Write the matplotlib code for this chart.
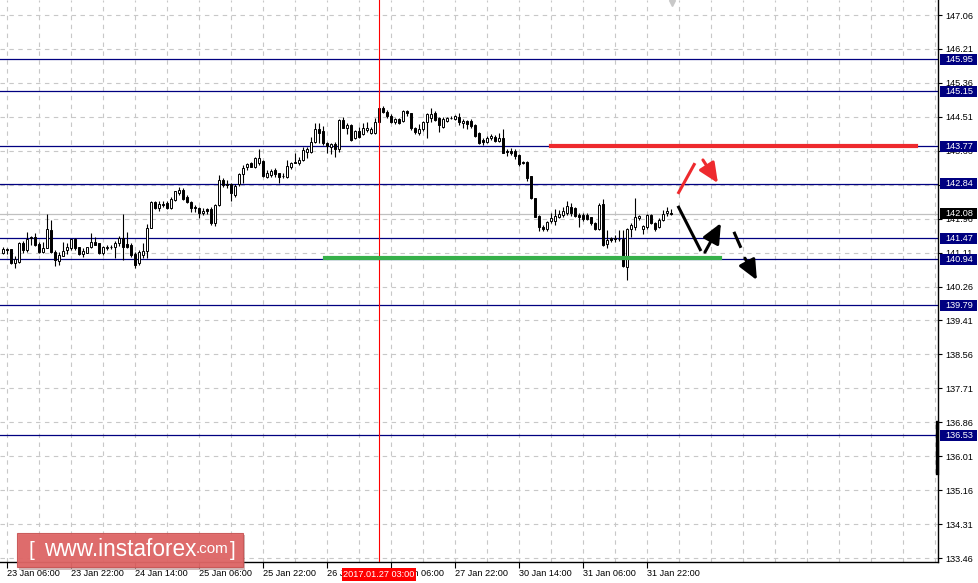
import numpy as np
import matplotlib
matplotlib.use('Agg')
import matplotlib.pyplot as plt
from matplotlib.patches import Rectangle
import matplotlib.transforms as mtransforms

# hourly candles (bar 0 = 23 Jan 05:00)
opens = [141.11, 141.19, 141.19, 140.84, 140.88, 141.36, 141.18, 141.49, 141.49, 141.32,
         141.13, 141.22, 141.68, 141.13, 140.90, 141.03, 141.18, 141.22, 141.44, 141.26,
         141.07, 141.11, 141.24, 141.38, 141.34, 141.11, 141.22, 141.26, 141.26, 141.34,
         141.48, 141.32, 141.30, 141.07, 140.84, 141.05, 141.15, 141.73, 142.37, 142.22,
         142.32, 142.34, 142.22, 142.43, 142.60, 142.68, 142.49, 142.37, 142.26, 142.23,
         142.09, 142.20, 142.20, 141.84, 142.30, 142.93, 142.82, 142.83, 142.55, 142.83,
         143.08, 143.25, 143.35, 143.26, 143.36, 143.41, 143.01, 143.05, 143.18, 143.10,
         143.03, 143.01, 143.26, 143.37, 143.35, 143.43, 143.64, 143.64, 143.89, 144.20,
         144.16, 143.86, 143.76, 143.82, 143.70, 144.43, 144.24, 144.31, 143.99, 144.16,
         144.07, 144.18, 144.10, 144.10, 144.37, 144.72, 144.64, 144.54, 144.37, 144.46,
         144.41, 144.66, 144.60, 144.24, 144.10, 144.21, 144.37, 144.49, 144.60, 144.49,
         144.26, 144.41, 144.48, 144.45, 144.51, 144.35, 144.41, 144.41, 144.31, 144.10,
         143.93, 143.89, 143.97, 144.01, 143.91, 143.97, 143.64, 143.66, 143.66, 143.55,
         143.39, 143.39, 143.03, 142.47, 142.03, 141.76, 141.69, 141.91, 141.91, 141.99,
         142.05, 142.09, 142.24, 142.22, 142.05, 142.05, 142.05, 141.99, 141.86, 141.69,
         142.33, 141.33, 141.47, 141.47, 141.44, 141.44, 140.76, 141.69, 141.76, 141.97,
         141.69, 141.76, 142.05, 141.84, 141.74, 141.93, 142.09, 142.11]
highs = [141.24, 141.23, 141.20, 141.02, 141.38, 141.41, 141.63, 141.53, 141.59, 141.38,
         141.38, 142.08, 141.93, 141.17, 141.13, 141.38, 141.34, 141.46, 141.47, 141.26,
         141.22, 141.26, 141.59, 141.51, 141.34, 141.28, 141.30, 141.30, 141.40, 141.53,
         142.07, 141.63, 141.34, 141.12, 141.17, 141.34, 141.82, 142.39, 142.40, 142.39,
         142.39, 142.39, 142.49, 142.65, 142.76, 142.72, 142.55, 142.39, 142.30, 142.26,
         142.22, 142.22, 142.24, 142.32, 143.05, 142.97, 142.93, 142.86, 142.84, 143.10,
         143.30, 143.36, 143.39, 143.51, 143.70, 143.43, 143.18, 143.20, 143.22, 143.11,
         143.10, 143.43, 143.39, 143.60, 143.51, 143.76, 143.75, 144.01, 144.35, 144.35,
         144.28, 143.89, 143.85, 143.89, 144.46, 144.51, 144.35, 144.32, 144.18, 144.26,
         144.35, 144.37, 144.26, 144.47, 144.74, 144.77, 144.68, 144.57, 144.47, 144.47,
         144.68, 144.68, 144.60, 144.26, 144.32, 144.41, 144.60, 144.72, 144.66, 144.51,
         144.51, 144.51, 144.53, 144.56, 144.60, 144.45, 144.43, 144.45, 144.33, 144.12,
         143.97, 144.03, 144.08, 144.05, 144.10, 144.20, 143.70, 143.72, 143.70, 143.57,
         143.41, 143.40, 143.03, 142.47, 142.05, 141.80, 141.91, 142.11, 142.19, 142.18,
         142.24, 142.39, 142.36, 142.24, 142.11, 142.11, 142.09, 141.99, 141.88, 142.34,
         142.44, 141.68, 141.51, 141.55, 141.68, 141.68, 141.72, 141.84, 142.47, 142.05,
         141.80, 142.08, 142.08, 141.88, 141.97, 142.18, 142.24, 142.19]
lows = [141.08, 141.07, 140.82, 140.73, 140.84, 141.09, 141.12, 141.30, 141.28, 141.09,
        141.09, 141.22, 141.09, 140.77, 140.80, 141.03, 141.07, 141.17, 141.17, 141.05,
        141.01, 141.09, 141.22, 141.30, 141.07, 141.05, 141.17, 141.20, 140.97, 141.28,
        140.92, 141.23, 141.01, 140.73, 140.80, 140.97, 140.97, 141.72, 142.20, 142.15,
        142.26, 142.20, 142.20, 142.39, 142.55, 142.43, 142.34, 142.12, 142.12, 141.98,
        142.05, 142.07, 141.80, 141.78, 142.28, 142.76, 142.72, 142.39, 142.51, 142.78,
        142.85, 143.18, 143.25, 143.22, 143.30, 143.01, 142.97, 143.01, 143.01, 142.85,
        142.97, 142.99, 143.20, 143.35, 143.30, 143.41, 143.47, 143.61, 143.86, 143.85,
        143.81, 143.61, 143.57, 143.51, 143.64, 144.22, 144.07, 143.91, 143.96, 143.99,
        144.06, 144.14, 144.07, 144.07, 144.35, 144.60, 144.47, 144.35, 144.32, 144.32,
        144.39, 144.54, 144.18, 144.07, 144.06, 144.16, 143.99, 144.39, 144.41, 144.12,
        144.22, 144.39, 144.45, 144.43, 144.31, 144.22, 144.20, 144.22, 144.01, 143.84,
        143.80, 143.86, 143.93, 143.88, 143.88, 143.60, 143.53, 143.55, 143.45, 143.28,
        143.33, 142.91, 142.45, 141.99, 141.66, 141.66, 141.66, 141.84, 141.80, 141.97,
        141.99, 142.05, 142.03, 141.99, 141.74, 141.91, 141.93, 141.80, 141.68, 141.68,
        141.28, 141.22, 141.38, 141.38, 141.41, 140.74, 140.42, 141.51, 141.68, 141.93,
        141.58, 141.69, 141.83, 141.66, 141.72, 141.91, 142.03, 142.05]
closes = [141.19, 141.18, 140.84, 140.94, 141.34, 141.18, 141.44, 141.48, 141.30, 141.13,
          141.22, 141.69, 141.13, 140.92, 141.05, 141.16, 141.26, 141.44, 141.22, 141.07,
          141.16, 141.24, 141.38, 141.30, 141.11, 141.26, 141.26, 141.24, 141.34, 141.47,
          141.26, 141.26, 141.05, 140.80, 141.12, 141.15, 141.73, 142.37, 142.22, 142.32,
          142.30, 142.22, 142.45, 142.64, 142.68, 142.45, 142.37, 142.22, 142.22, 142.09,
          142.15, 142.15, 141.84, 142.30, 142.93, 142.80, 142.80, 142.59, 142.78, 143.08,
          143.22, 143.33, 143.26, 143.47, 143.47, 143.03, 143.11, 143.16, 143.08, 143.01,
          143.02, 143.28, 143.36, 143.36, 143.43, 143.68, 143.70, 143.89, 144.20, 144.11,
          143.85, 143.78, 143.82, 143.70, 144.43, 144.24, 144.31, 143.93, 144.16, 144.01,
          144.22, 144.22, 144.21, 144.39, 144.72, 144.64, 144.54, 144.37, 144.46, 144.35,
          144.66, 144.60, 144.22, 144.12, 144.21, 144.37, 144.57, 144.57, 144.43, 144.31,
          144.45, 144.48, 144.47, 144.53, 144.39, 144.41, 144.33, 144.28, 144.03, 143.86,
          143.89, 143.97, 144.03, 143.91, 143.97, 143.61, 143.63, 143.60, 143.53, 143.33,
          143.36, 142.99, 142.47, 142.01, 141.74, 141.69, 141.88, 141.97, 142.03, 142.08,
          142.14, 142.28, 142.09, 142.03, 141.99, 141.94, 141.94, 141.84, 141.69, 142.30,
          141.30, 141.43, 141.43, 141.46, 141.45, 140.77, 141.69, 141.80, 142.01, 142.03,
          141.78, 142.05, 141.86, 141.69, 141.93, 142.08, 142.16, 142.08]

# price scale and levels
price_ticks = [147.06, 146.21, 145.36, 144.51, 143.66, 142.81, 141.96, 141.11, 140.26,
               139.41, 138.56, 137.71, 136.86, 136.01, 135.16, 134.31, 133.46]
levels = [145.95, 145.15, 143.77, 142.84, 141.47, 140.94, 139.79, 136.53]
last_price = 142.08

# time axis
date_ticks = [1, 17, 33, 49, 65, 81, 97, 113, 129, 145, 161]
date_labels = ['23 Jan 06:00', '23 Jan 22:00', '24 Jan 14:00', '25 Jan 06:00',
               '25 Jan 22:00', '26 Jan 14:00', '27 Jan 06:00', '27 Jan 22:00',
               '30 Jan 14:00', '31 Jan 06:00', '31 Jan 22:00']
cursor_bar = 94
cursor_label = '2017.01.27 03:00'

# drawn resistance / support and forecast arrows
red_level = (137, 228.25, 143.77)
green_level = (80.5, 179.25, 140.98)
red_segs = [((168.75, 142.58), (173.0, 143.35), False),
            ((175.0, 143.43), (178.75, 142.85), True)]
black_segs = [((168.75, 142.28), (174.5, 141.15), False),
              ((175.5, 141.12), (179.5, 141.85), True),
              ((182.75, 141.63), (184.5, 141.23), False),
              ((185.5, 140.97), (188.5, 140.42), True)]

W, H = 979, 583
fig = plt.figure(figsize=(W / 100, H / 100), dpi=100)
ax = fig.add_axes([0, 21 / H, 938.5 / W, 562 / H])
ax.set_xlim(-0.75, 233.9)
ax.set_ylim(133.361, 147.436)

tick_font = dict(family='Liberation Sans', size=6.6)

# grid
for yv in price_ticks:
    ax.axhline(yv, color='#c8c8c8', lw=0.8, ls=(0, (4, 4)), zorder=0)
for xv in np.arange(1, 234, 8):
    ax.axvline(xv, color='#c8c8c8', lw=0.8, ls=(0, (4, 4)), zorder=0)

# levels
for lv in levels:
    ax.axhline(lv, color='#000080', lw=0.9, zorder=1)
ax.axhline(last_price, color='#c0c0c0', lw=0.9, zorder=1)
ax.axvline(cursor_bar, color='#ff0000', lw=0.8, zorder=4)

# candles
idx = np.arange(len(opens))
o = np.array(opens); h = np.array(highs); l = np.array(lows); c = np.array(closes)
ax.vlines(idx, l, h, color='black', lw=0.8, zorder=2)
up = c >= o
body_lo = np.minimum(o, c)
body_hi = np.maximum(o, c)
hgt = np.maximum(body_hi - body_lo, 0.012)
ax.bar(idx[up], hgt[up], bottom=body_lo[up], width=0.7, color='white',
       edgecolor='black', lw=0.7, zorder=3)
ax.bar(idx[~up], hgt[~up], bottom=body_lo[~up], width=0.7, color='black',
       edgecolor='black', lw=0.7, zorder=3)

# analyst lines
ax.plot([red_level[0], red_level[1]], [red_level[2]] * 2, color='#ee2a2e', lw=3, zorder=5)
ax.plot([green_level[0], green_level[1]], [green_level[2]] * 2, color='#36b04a', lw=3, zorder=5)
for segs, col in [(red_segs, '#ee2a2e'), (black_segs, 'black')]:
    for (p0, p1, head) in segs:
        if head:
            ax.annotate('', xy=p1, xytext=p0, zorder=6,
                        arrowprops=dict(arrowstyle='-|>,head_length=1.0,head_width=0.45',
                                        color=col, lw=2.2, shrinkA=0, shrinkB=0,
                                        mutation_scale=12))
        else:
            ax.plot([p0[0], p1[0]], [p0[1], p1[1]], color=col, lw=2.2,
                    solid_capstyle='butt', zorder=6)

# axes look
for side in ['top', 'left']:
    ax.spines[side].set_visible(False)
ax.spines['right'].set_linewidth(1.0)
ax.spines['bottom'].set_linewidth(1.0)
ax.yaxis.tick_right()
ax.set_yticks(price_ticks)
ax.set_yticklabels([f'{v:.2f}' for v in price_ticks], **tick_font)
ax.tick_params(axis='y', length=3, width=0.8, pad=2)
ax.set_xticks(date_ticks)
ax.set_xticklabels(date_labels, ha='left', **tick_font)
ax.tick_params(axis='x', length=4, width=0.8, pad=1)

# level boxes on the price axis
ytr = mtransforms.blended_transform_factory(ax.transAxes, ax.transData)
bh = 5.5 / 39.93
for lv in levels + [last_price]:
    fc = 'black' if lv == last_price else '#000080'
    ax.add_patch(Rectangle((1.0015, lv - bh), 0.0395, 2 * bh, transform=ytr,
                           facecolor=fc, edgecolor='none', clip_on=False, zorder=10))
    ax.text(1.0068, lv, f'{lv:.2f}', transform=ytr, color='white', va='center',
            ha='left', clip_on=False, zorder=11, **tick_font)

# scroll bar mark on right edge
ax.plot([0.9985, 0.9985], [136.87, 135.58], transform=ytr, color='black', lw=2.4,
        clip_on=False, zorder=9)

# chart shift marker
xtr = mtransforms.blended_transform_factory(ax.transData, ax.transAxes)
ax.plot([167.25], [1 - 3 / 562], marker='v', ms=5, color='#c8c8c8', transform=xtr,
        clip_on=False, zorder=9)

# cursor date label
ax.text(cursor_bar, -8 / 562, cursor_label, transform=xtr, ha='center', va='top',
        color='white', clip_on=False, zorder=12,
        bbox=dict(boxstyle='square,pad=0.18', fc='#ff0000', ec='none'), **tick_font)

# watermark
fig.patches.append(Rectangle((19 / W, (H - 570) / H), 226 / W, 35 / H, transform=fig.transFigure,
                             facecolor='#9a6a6a', alpha=0.45, edgecolor='none', zorder=20))
fig.patches.append(Rectangle((17 / W, (H - 567) / H), 226 / W, 34 / H, transform=fig.transFigure,
                             facecolor='#e06666', alpha=0.93, edgecolor='#c85555', lw=0.8, zorder=21))
fig.text(28 / W, (H - 551) / H, '[', color='white', fontsize=15, va='center', ha='left',
         family='Liberation Sans', zorder=22)
fig.text(44 / W, (H - 550) / H, 'www.instaforex', color='white', fontsize=16.3, va='center',
         ha='left', family='Liberation Sans', zorder=22)
fig.text(196 / W, (H - 549) / H, '.com', color='white', fontsize=11, va='center',
         ha='left', family='Liberation Sans', zorder=22)
fig.text(230 / W, (H - 551) / H, ']', color='white', fontsize=15, va='center', ha='left',
         family='Liberation Sans', zorder=22)

fig.savefig('out.png', dpi=100, facecolor='white')
